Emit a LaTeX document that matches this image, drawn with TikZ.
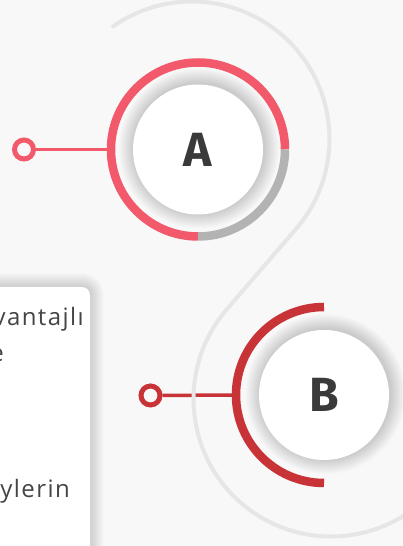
\documentclass[tikz,border=0pt]{standalone}
\usepackage{xcolor}
\usepackage{fontspec}
\setmainfont{Open Sans}
\newfontfamily\letterfont{Fira Sans}
\newfontfamily\cardfont[LetterSpace=6]{Open Sans}
\usepackage{tikz}
\usetikzlibrary{calc,positioning}
\definecolor{pageGray}{HTML}{F8F8F8}
\definecolor{curveGray}{HTML}{E6E6E6}
\definecolor{arcGray}{HTML}{B3B3B3}
\definecolor{roseRed}{HTML}{F25A6B}
\definecolor{brickRed}{HTML}{C83337}
\definecolor{letterInk}{HTML}{3A3A3A}
\definecolor{bodyInk}{HTML}{454545}

\tikzset{
    disc/.style={circle, fill=white, minimum size=130pt, inner sep=0pt,
        font=\letterfont\bfseries\fontsize{48}{48}\selectfont, text=letterInk},
    enddot/.style={circle, draw=#1, line width=5pt, fill=pageGray, minimum size=19pt, inner sep=0pt},
    ringline/.style={line width=8.5pt},
    haze/.style={black, opacity=0.011},
    bodytext/.style={font=\cardfont\fontsize{24}{24}\selectfont, text=bodyInk, inner sep=0pt, anchor=base east}
}

\begin{document}
\begin{tikzpicture}[x=1pt, y=1pt]
    \useasboundingbox (0,0) rectangle (403,546);
    \clip (0,0) rectangle (403,546);
    \fill[pageGray] (0,0) rectangle (403,546);

    % Text card on the left
    \foreach \s in {1,...,14} {
        \fill[haze, rounded corners=8pt+\s] (-40-\s,-40-\s) rectangle (90+\s,259+\s);
    }
    \fill[white, rounded corners=8pt] (-40,-40) rectangle (90,259);
    \node[bodytext] (line-one) at (84,220) {vantajlı};
    \node[bodytext] (line-two) at (4,184) {e};
    \node[bodytext] (line-three) at (70,48) {ylerin};

    % Soft shadows under the discs
    \foreach \r in {66,...,80} {
        \fill[haze] (199,397.5) circle (\r);
        \fill[haze] (325.5,152) circle (\r);
    }

    % Stations
    \node[disc] (A) at (198,396.5) {A};
    \node[disc] (B) at (324,151) {B};
    \node[enddot=roseRed] (a-dot) at (24,396.5) {};
    \node[enddot=brickRed] (b-dot) at (150.5,150.5) {};
    \coordinate (a-ring) at ($(A.center)+(180:87)$);
    \coordinate (b-ring) at ($(B.center)+(180:88)$);

    % Connectors
    \draw[roseRed, line width=3.5pt] (a-dot) -- (a-ring);
    \draw[brickRed, line width=3.5pt] (b-dot) -- (b-ring);

    % S-shaped guide curve
    \coordinate (upper) at (192,407);
    \coordinate (lower) at (331,147);
    \draw[curveGray, line width=4pt, line cap=round]
        ($(upper)+(125:137.5)$) arc[start angle=125, end angle=-40.8, radius=137.5]
        -- ($(lower)+(139.2:137.5)$) arc[start angle=139.2, end angle=315, radius=137.5];

    % Rings
    \draw[roseRed, ringline] ($(A.center)+(0:87)$) arc[start angle=0, end angle=270, radius=87];
    \draw[arcGray, ringline] ($(A.center)+(270:87)$) arc[start angle=270, end angle=360, radius=87];
    \draw[brickRed, ringline] ($(B.center)+(90:88)$) arc[start angle=90, end angle=270, radius=88];
\end{tikzpicture}
\end{document}
